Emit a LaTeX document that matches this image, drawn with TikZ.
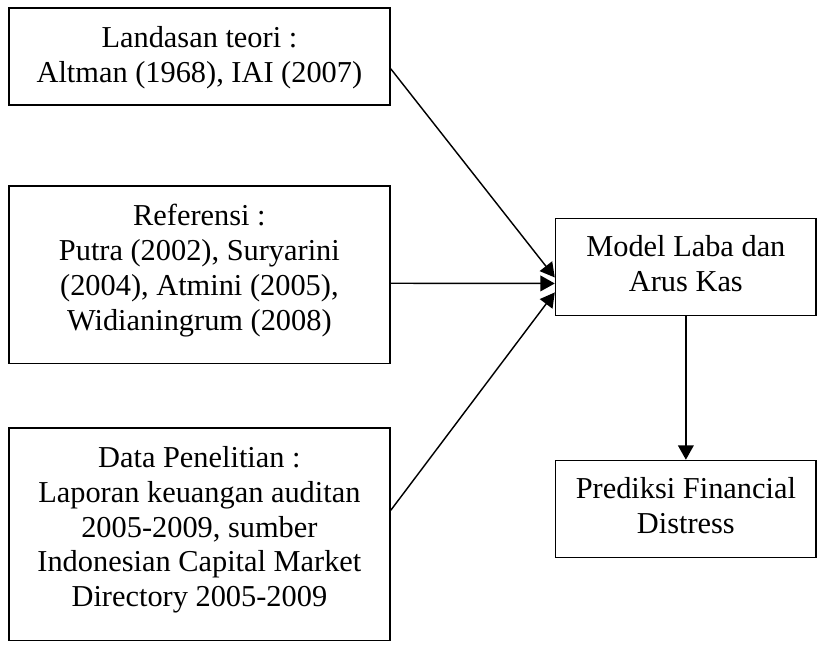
\documentclass[tikz,border=0pt]{standalone}
\usepackage{fontspec}
\setmainfont{Liberation Serif}
\usetikzlibrary{arrows.meta,fit,calc}
\newcommand{\topstrut}{\rule{0pt}{0.7em}}
\begin{document}
\begin{tikzpicture}[x=0.75pt,y=-0.75pt,
  box/.style={draw,line width=1.2pt,inner sep=0pt},
  txt/.style={align=center,inner sep=0pt,anchor=north,font=\fontsize{23.25}{26.625}\selectfont},
  conn/.style={line width=1.1pt,-{Triangle[length=11pt,width=12pt]}}]
\useasboundingbox (0,0) rectangle (842,661);
\node[box,fit={(9,8) (398,107)}] (b1) {};
\node[box,fit={(9,190) (398,371)}] (b2) {};
\node[box,fit={(9,437) (398,653.5)}] (b3) {};
\node[box,fit={(567,223) (833,322)}] (m) {};
\node[box,fit={(567,470) (833,569)}] (p) {};
\node[txt] (t1) at (203.5,26.3) {\topstrut Landasan teori :\\Altman (1968), IAI (2007)};
\node[txt] (t2) at (203.5,208.3) {\topstrut Referensi :\\Putra (2002), Suryarini\\(2004), Atmini (2005),\\Widianingrum (2008)};
\node[txt] (t3) at (203.5,455.3) {\topstrut Data Penelitian :\\Laporan keuangan auditan\\2005-2009, sumber\\Indonesian Capital Market\\Directory 2005-2009};
\node[txt] (tm) at (700,239.8) {\topstrut Model Laba dan\\Arus Kas};
\node[txt] (tp) at (700,487.3) {\topstrut Prediksi Financial\\Distress};
\draw[conn] ($(b1.north east)!0.626!(b1.south east)$) -- ($(m.north west)!0.606!(m.south west)$);
\draw[conn] ($(b2.north east)!0.547!(b2.south east)$) -- ($(m.north west)!0.667!(m.south west)$);
\draw[conn] ($(b3.north east)!0.388!(b3.south east)$) -- ($(m.north west)!0.758!(m.south west)$);
\draw[conn] (m.south) -- (p.north);
\end{tikzpicture}
\end{document}
